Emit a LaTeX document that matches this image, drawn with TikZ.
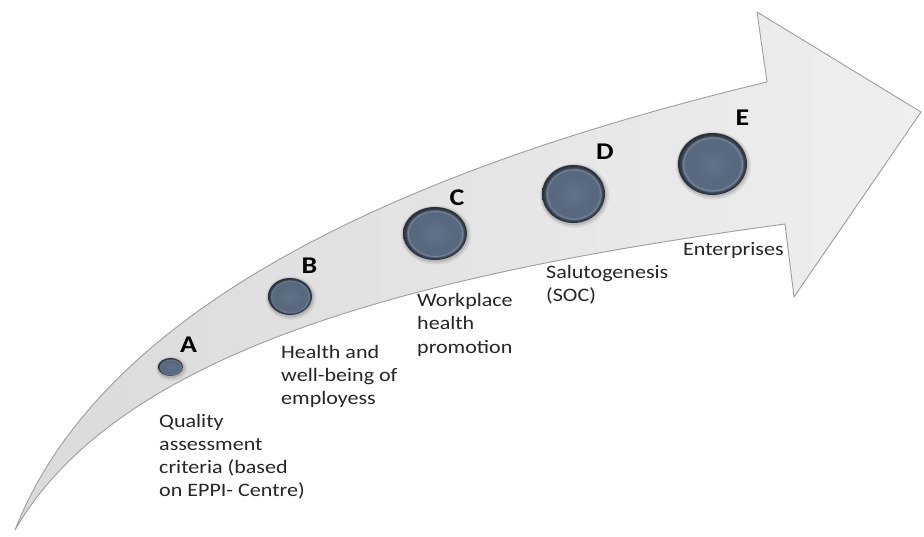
\documentclass[tikz,border=0pt]{standalone}
\usepackage{fontspec}
\usetikzlibrary{shapes.geometric}
\newfontfamily\lblfont[FakeStretch=1.16]{Carlito}

\definecolor{arrowfillL}{HTML}{DADADA}
\definecolor{arrowfillR}{HTML}{EFEFEF}
\definecolor{arrowline}{HTML}{9E9E9E}
\definecolor{txt}{HTML}{262626}
\definecolor{dfacec}{HTML}{627289}
\definecolor{dface}{HTML}{58687E}
\definecolor{dring}{HTML}{7A899E}
\definecolor{dedge}{HTML}{3E4958}
\definecolor{ddark}{HTML}{2A313B}

% flat face, light inner ring, dark rim
\pgfdeclareradialshading{discshade}{\pgfpoint{0bp}{0bp}}{%
  color(0bp)=(dfacec); color(14bp)=(dface); color(20.3bp)=(dface);
  color(21.3bp)=(dring); color(22.6bp)=(dedge); color(24.3bp)=(ddark);
  color(25bp)=(ddark); color(50bp)=(ddark)}

% soft halo plus shaded disc node
\newcommand{\placedisc}[5]{%
  \fill[black,opacity=0.08] (#2+1,#3+1.5) ellipse [x radius=#4+3, y radius=#5+3];
  \fill[black,opacity=0.12] (#2+0.5,#3+1) ellipse [x radius=#4+1.3, y radius=#5+1.3];
  \node[disc, minimum width=2*#4, minimum height=2*#5] (#1) at (#2,#3) {};}

\begin{document}
\begin{tikzpicture}[x=1pt,y=-1pt,
  disc/.style={ellipse, inner sep=0pt, shading=discshade},
  letter/.style={font=\lblfont\bfseries\fontsize{24}{24}\selectfont, inner sep=0pt, text=black},
  caption/.style={font=\lblfont\fontsize{19}{23.3}\selectfont, inner sep=0pt,
                  anchor=base west, text=txt}]
\useasboundingbox (0,0) rectangle (924,536);
\fill[white] (0,0) rectangle (924,536);

% curved arrow
\path[left color=arrowfillL, right color=arrowfillR, draw=arrowline,
      line width=0.9pt, line join=round]
  (15,530) .. controls (105,300) and (420,165) .. (767,82)
  -- (757,12) -- (921,112) -- (794,297) -- (785,224)
  .. controls (455,269) and (125,339) .. (15,530)
  -- cycle;

% stage discs
\placedisc{a}{170.5}{367}{12.5}{9}
\placedisc{b}{290}{296.5}{22}{18.5}
\placedisc{c}{435}{233.5}{32}{26.5}
\placedisc{d}{573.5}{194}{31.5}{29}
\placedisc{e}{712.5}{164}{34.5}{31}

% stage letters
\node[letter] (la) at (188.5,345) {A};
\node[letter] (lb) at (309.5,265.5) {B};
\node[letter] (lc) at (457,197.5) {C};
\node[letter] (ld) at (605,151.5) {D};
\node[letter] (le) at (742.5,117.5) {E};

% stage captions
\node[caption] (ta) at (159,427)
  {\begin{tabular}[t]{@{}l@{}}Quality\\assessment\\criteria (based\\on EPPI- Centre)\end{tabular}};
\node[caption] (tb) at (281,358)
  {\begin{tabular}[t]{@{}l@{}}Health and\\well-being of\\employess\end{tabular}};
\node[caption] (tc) at (417,306.5)
  {\begin{tabular}[t]{@{}l@{}}Workplace\\health\\promotion\end{tabular}};
\node[caption] (td) at (546,278)
  {\begin{tabular}[t]{@{}l@{}}Salutogenesis\\(SOC)\end{tabular}};
\node[caption] (te) at (683,255) {Enterprises};
\end{tikzpicture}
\end{document}
